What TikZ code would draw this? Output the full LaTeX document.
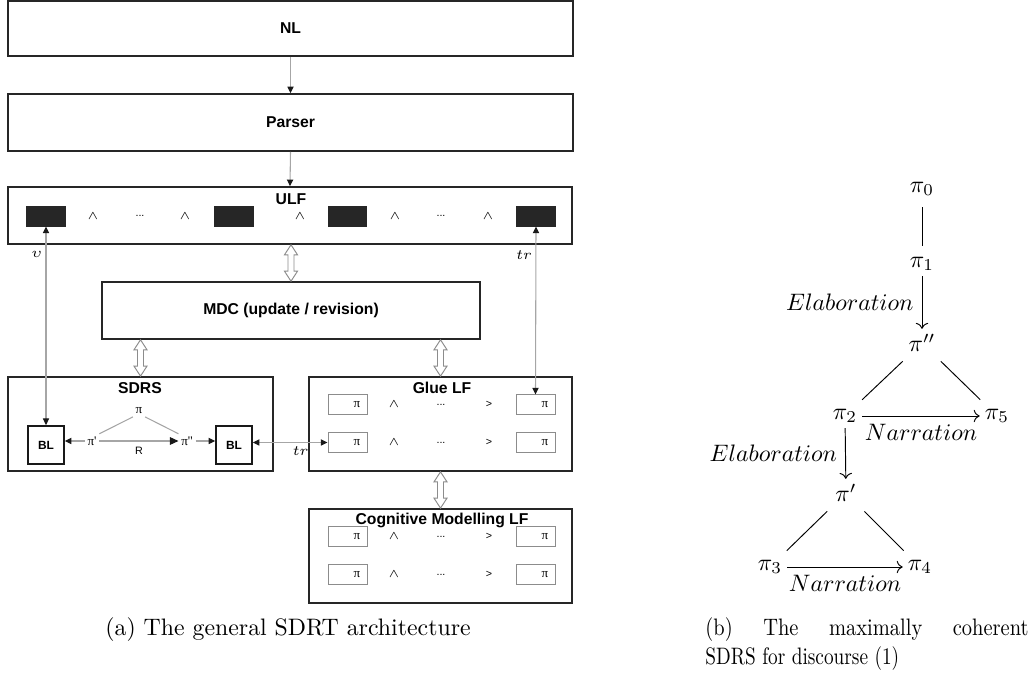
\documentclass[tikz,border=0pt]{standalone}
\usepackage{fontspec}
\newfontfamily\arialf{Liberation Sans}
\newfontfamily\timesf{Liberation Serif}
\newfontfamily\capfont{Latin Modern Roman}[FakeStretch=0.81]
\newfontfamily\capbfont{Latin Modern Roman}[FakeStretch=0.86]
\usetikzlibrary{arrows.meta,calc}
\tikzset{
  blacktri/.tip={Triangle[black!90, length=2.8pt, width=2.6pt]},
  bigtri/.tip={Triangle[black!90, length=3.6pt, width=3.2pt]},
}
\newcommand{\holarrow}[2]{%
  \draw[holl] #1 -- ($#1+(6.5,10)$) -- ($#1+(3,10)$) -- ($#2+(3,-10)$) -- ($#2+(6.5,-10)$) -- #2
    -- ($#2+(-6.5,-10)$) -- ($#2+(-3,-10)$) -- ($#1+(-3,10)$) -- ($#1+(-6.5,10)$) -- cycle;}
\begin{document}
\begin{tikzpicture}[x=0.42pt,y=-0.42pt,
  bigbox/.style={draw=black!85, line width=0.7pt, inner sep=0, rectangle, font=\arialf\bfseries\fontsize{6.6}{8}\selectfont},
  ttl/.style={font=\arialf\bfseries\fontsize{6.6}{8}\selectfont, inner sep=0},
  blk/.style={fill=black!85, draw=black!85, minimum width=16pt, minimum height=8pt, inner sep=0},
  sym/.style={font=\arialf\fontsize{4.5}{5}\selectfont, inner sep=0},
  pibox/.style={draw=black!45, line width=0.4pt, minimum height=8pt, text width=10.6pt, inner xsep=2.9pt, inner ysep=0, align=right, font=\timesf\fontsize{5.5}{6}\selectfont},
  blbox/.style={draw=black!90, line width=0.7pt, minimum width=15.1pt, minimum height=16pt, inner sep=0, font=\arialf\bfseries\fontsize{5}{6}\selectfont},
  sdrssym/.style={font=\timesf\fontsize{5.5}{6}\selectfont, inner sep=1pt},
  gline/.style={draw=black!35, line width=0.45pt},
  conn/.style={gline, -{blacktri}},
  conn2/.style={gline, {blacktri}-{blacktri}},
  holl/.style={draw=black!45, line width=0.4pt, fill=white, line join=miter},
  mathnode/.style={inner sep=2pt},
  rline/.style={line width=0.4pt},
  sh/.style={shorten >=2.5pt, shorten <=2.5pt},
  lbl/.style={font=\fontsize{6}{7}\selectfont, inner sep=1.5pt}
]
\useasboundingbox (0,0) rectangle (1032,679);

% ---------- (a) architecture ----------
\node[bigbox, minimum width=237.3pt, minimum height=23.1pt] (nl) at (290.5,28.5) {NL};
\node[bigbox, minimum width=237.3pt, minimum height=23.9pt] (parser) at (290.5,122.5) {Parser};
\node[bigbox, minimum width=236.9pt, minimum height=23.9pt] (ulf) at (290,215.5) {};
\node[ttl] (ulft) at (291,199) {ULF};
\node[blk] (u1) at (46,216.5) {};
\node[blk] (u2) at (234,216.5) {};
\node[blk] (u3) at (347.5,216.5) {};
\node[blk] (u4) at (536,216.5) {};
\node[sym] (ua1) at (93,216) {$\wedge$};
\node[sym] (ud1) at (140,216) {...};
\node[sym] (ua2) at (185,216) {$\wedge$};
\node[sym] (ua3) at (300,216) {$\wedge$};
\node[sym] (ua4) at (395,216) {$\wedge$};
\node[sym] (ud2) at (441,216) {...};
\node[sym] (ua5) at (488,216) {$\wedge$};

\node[bigbox, minimum width=158.8pt, minimum height=23.9pt] (mdc) at (291,310.5) {MDC (update / revision)};

\node[bigbox, minimum width=111.3pt, minimum height=39.5pt] (sdrs) at (140.5,424) {};
\node[ttl] (sdrst) at (140,388) {SDRS};
\node[bigbox, minimum width=110.5pt, minimum height=39.5pt] (glue) at (440.5,424) {};
\node[ttl] (gluet) at (442,388) {Glue LF};
\node[bigbox, minimum width=110.5pt, minimum height=39.5pt] (cog) at (440.5,556) {};
\node[ttl] (cogt) at (442,520) {Cognitive Modelling LF};

% SDRS internals
\node[blbox] (bl1) at (46,445) {BL};
\node[blbox] (bl2) at (234,445) {BL};
\node[sdrssym] (p) at (139,411) {π};
\node[sdrssym] (p1) at (92,441) {π'};
\node[sdrssym] (p2) at (187,441) {π''};
\node[sym] (r) at (139,451) {R};
\draw[gline] (p.south west) -- (p1.north east);
\draw[gline] (p.south east) -- (p2.north west);
\draw[conn] (p1.west) -- (bl1.east |- p1.west);
\draw[gline, -{bigtri}] (p1.east) -- (p2.west);
\draw[conn] (p2.east) -- (bl2.west |- p2.east);

% Glue LF rows
\node[pibox] (g11) at (347.5,404.5) {π};
\node[sym] (ga1) at (394,404.5) {$\wedge$};
\node[sym] (gd1) at (441,404.5) {...};
\node[sym] (gg1) at (489,404.5) {>};
\node[pibox] (g12) at (535.5,404.5) {π};
\node[pibox] (g21) at (347.5,442.5) {π};
\node[sym] (ga2) at (394,442.5) {$\wedge$};
\node[sym] (gd2) at (441,442.5) {...};
\node[sym] (gg2) at (489,442.5) {>};
\node[pibox] (g22) at (535.5,442.5) {π};

% Cognitive rows
\node[pibox] (c11) at (347.5,536.5) {π};
\node[sym] (ca1) at (394,536.5) {$\wedge$};
\node[sym] (cd1) at (441,536.5) {...};
\node[sym] (cg1) at (489,536.5) {>};
\node[pibox] (c12) at (535.5,536.5) {π};
\node[pibox] (c21) at (347.5,574.5) {π};
\node[sym] (ca2) at (394,574.5) {$\wedge$};
\node[sym] (cd2) at (441,574.5) {...};
\node[sym] (cg2) at (489,574.5) {>};
\node[pibox] (c22) at (535.5,574.5) {π};

% connectors
\draw[conn] (nl.south) -- (parser.north);
\draw[conn] (parser.south) -- (ulf.north);
\holarrow{(mdc.north |- ulf.south)}{(mdc.north)}
\holarrow{(mdc.south -| sdrs.north)}{(sdrs.north)}
\holarrow{(mdc.south -| glue.north)}{(glue.north)}
\holarrow{(glue.south)}{(cog.north)}
\draw[conn2] (u1.south) -- node[pos=0.14, left, lbl] {$\upsilon$} (bl1.north);
\draw[conn2] (u4.south) -- node[pos=0.17, left, lbl] {$tr$} (g12.north);
\draw[conn2] (bl2.east |- g21.west) -- node[pos=0.64, below, lbl] {$tr$} (g21.west);

% ---------- (b) SDRS ----------
\node[mathnode] (r0) at (922,189) {$\pi_0$};
\node[mathnode] (r1) at (922,264) {$\pi_1$};
\node[mathnode] (rpp) at (922,343) {$\pi''$};
\node[mathnode] (r2) at (845,416) {$\pi_2$};
\node[mathnode] (r5) at (997,416) {$\pi_5$};
\node[mathnode] (rp) at (846,493) {$\pi'$};
\node[mathnode] (r3) at (770,567) {$\pi_3$};
\node[mathnode] (r4) at (920,567) {$\pi_4$};
\draw[rline, sh] (r0) -- (r1);
\draw[rline, ->] (r1) -- node[left] {$Elaboration$} (rpp);
\draw[rline, sh] (rpp) -- (r2);
\draw[rline, sh] (rpp) -- (r5);
\draw[rline, ->] (r2) -- node[below] {$Narration$} (r5);
\draw[rline, ->] (r2) -- node[left] {$Elaboration$} (rp);
\draw[rline, sh] (rp) -- (r3);
\draw[rline, sh] (rp) -- (r4);
\draw[rline, ->] (r3) -- node[below] {$Narration$} (r4);

% ---------- captions ----------
\node[anchor=base, inner sep=0] (capa) at (288,636) {(a) The general SDRT architecture};
\node[anchor=base west, inner sep=0, font=\capbfont] (capb1) at (705,636) {\makebox[135.7pt][s]{(b) The maximally coherent}};
\node[anchor=base west, inner sep=0, font=\capfont] (capb2) at (705,665) {SDRS for discourse (1)};
\end{tikzpicture}
\end{document}
